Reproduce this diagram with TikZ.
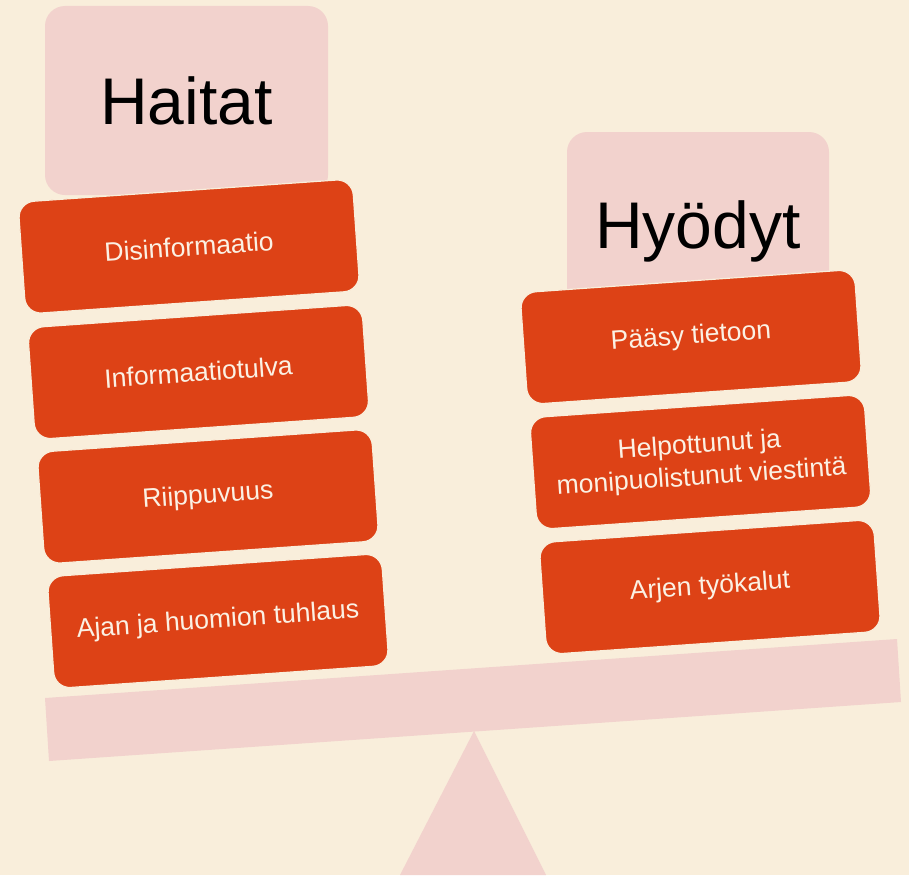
\documentclass[tikz,border=0pt]{standalone}
\usepackage{fontspec}
\setmainfont{Liberation Sans}
\usepackage{tikz}

\definecolor{bgcream}{RGB}{249,238,219}
\definecolor{scalepink}{RGB}{242,210,205}
\definecolor{itemred}{RGB}{221,66,22}
\definecolor{itemtext}{RGB}{251,241,228}

\tikzset{
  head/.style={fill=scalepink, rounded corners=20pt, inner sep=0pt,
    text height=48pt, text depth=0pt, font=\fontsize{66}{70}\selectfont},
  item/.style={fill=itemred, draw=bgcream, line width=1.2pt, rounded corners=16pt,
    minimum width=335pt, minimum height=112pt, inner sep=0pt, rotate=4,
    text=itemtext, align=center, font=\fontsize{26.5}{32}\selectfont}
}

\begin{document}
\begin{tikzpicture}[x=1pt,y=-1pt]
\fill[bgcream] (0,0) rectangle (909,875);
\useasboundingbox (0,0) rectangle (909,875);
\path (186.5,100.5) node[head, minimum width=283pt, minimum height=189pt] (haitat) {Haitat}
      (698,224) node[head, minimum width=262pt, minimum height=184pt] (hyodyt) {Hyödyt}
      ;
\path (189,246.5) node[item] (disinfo) {Disinformaatio}
      (198.5,372) node[item] (tulva) {Informaatiotulva}
      (208,496.5) node[item] (riippuvuus) {Riippuvuus}
      (218,621) node[item] (tuhlaus) {Ajan ja huomion tuhlaus}
      (691,337) node[item] (paasy) {Pääsy tietoon}
      (700.5,462) node[item] (viestinta) {Helpottunut ja\\monipuolistunut viestintä}
      (710,587) node[item] (tyokalut) {Arjen työkalut}
      ;
\fill[scalepink] (45,698) -- (897,639) -- (901,702) -- (49,761) -- cycle;
\fill[scalepink] (474,731) -- (546,875) -- (400,875) -- cycle;
\end{tikzpicture}
\end{document}
